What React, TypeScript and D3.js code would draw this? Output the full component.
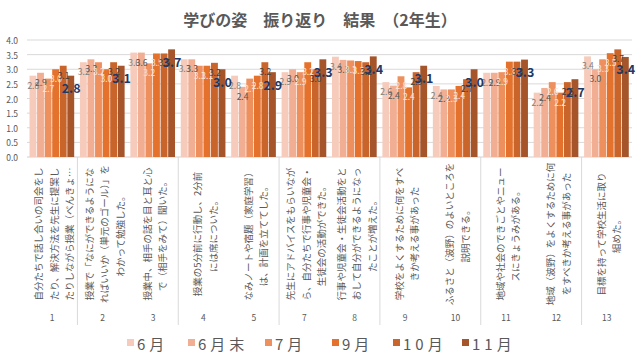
import React from "react";
import * as d3 from "d3";

const title = "学びの姿　振り返り　結果　（2年生）";
const months = ["6月", "6月末", "7月", "9月", "10月", "11月"];
const itemNumbers = ["1", "2", "3", "4", "5", "7", "8", "9", "10", "11", "12", "13"];
const itemTexts: string[][] = [
  ["自分たちで話し合いの司会をし", "たり、解決方法を先生に提案し", "たりしながら授業（べんきょ…"],
  ["授業で「なにができるようにな", "ればいいか（単元のゴール）」を", "わかって勉強した。"],
  ["授業中、相手の話を目と耳と心", "で（相手をみて）聞いた。"],
  ["授業の5分前に行動し、2分前", "には席についた。"],
  ["なみノートや宿題（家庭学習）", "は、計画を立ててした。"],
  ["先生にアドバイスをもらいなが", "ら、自分たちで行事や児童会・", "生徒会の活動ができた。"],
  ["行事や児童会・生徒会活動をと", "おして自分ができるようになっ", "たことが増えた。"],
  ["学校をよくするために何をすべ", "きか考える事があった"],
  ["ふるさと（波野）のよいところを", "説明できる。"],
  ["地域や社会のできごとやニュー", "スにきょうみがある。"],
  ["地域（波野）をよくするために何", "をすべきか考える事があった"],
  ["目標を持って学校生活に取り", "組めた。"],
];

const v6 = [2.78, 3.24, 3.57, 3.34, 2.78, 2.9, 3.43, 2.56, 2.43, 2.88, 2.2, 3.44];
const v6end = [2.88, 3.34, 3.57, 3.34, 2.4, 3.0, 3.32, 2.44, 2.31, 2.88, 2.36, 3.0];
const v7 = [2.68, 3.24, 3.2, 3.12, 2.68, 2.9, 3.3, 2.76, 2.31, 2.9, 2.56, 3.34];
const v9 = [3.0, 3.0, 3.54, 3.12, 2.78, 3.24, 3.28, 2.38, 2.43, 3.26, 2.2, 3.55];
const v10 = [3.12, 3.24, 3.54, 3.22, 3.24, 3.0, 3.24, 2.9, 2.66, 3.26, 2.56, 3.68];
const v11 = [2.78, 3.12, 3.68, 3.0, 2.9, 3.34, 3.44, 3.12, 3.0, 3.33, 2.66, 3.42];
const seriesValues = [v6, v6end, v7, v9, v10, v11];

const barColors = ["#F6CBBB", "#F1AE93", "#EE8F5E", "#E5722C", "#C9642B", "#A6552B"];
const labelColors = ["#7F7F7F", "#595959", "#FBE3D6", "#FBE3D6", "#404040", "#1F3864"];

const FONT = "'Noto Sans CJK JP', 'Noto Sans', sans-serif";

export default function App() {
  const W = 640, H = 360;
  const x = d3.scaleBand<string>().domain(itemNumbers).range([27, 632]).paddingInner(0.1).paddingOuter(0.05);
  const x1 = d3.scaleBand<string>().domain(months).range([0, x.bandwidth()]);
  const y = d3.scaleLinear().domain([0, 4]).range([157, 40]);
  const ticks = y.ticks(8);
  const fmt = d3.format(".1f");
  const step = x.step();
  const sepIdx = [1, 3, 5, 7, 9, 11];

  const legendX = [127, 188, 265, 332, 393, 462];

  return (
    <svg width={W} height={H} style={{ position: "absolute", left: 0, top: 0, background: "#fff" }} fontFamily={FONT}>
      <text x={320} y={19} textAnchor="middle" dominantBaseline="central" fontSize={16} fontWeight={700} fill="#595959">
        {title}
      </text>
      {ticks.map((t) => (
        <g key={"t" + t}>
          <line x1={27} x2={632} y1={y(t)} y2={y(t)} stroke={t === 0 ? "#D0D0D0" : "#D9D9D9"} strokeWidth={1} />
          <text x={18} y={y(t)} textAnchor="end" dominantBaseline="central" fontSize={8.5} fill="#595959">
            {fmt(t)}
          </text>
        </g>
      ))}
      {seriesValues.map((vals, si) => (
        <g key={"s" + si}>
          {vals.map((v, i) => (
            <rect
              key={i}
              x={(x(itemNumbers[i]) as number) + (x1(months[si]) as number)}
              y={y(v)}
              width={x1.bandwidth() - 0.7}
              height={y(0) - y(v)}
              fill={barColors[si]}
            />
          ))}
        </g>
      ))}
      {seriesValues.map((vals, si) => (
        <g key={"l" + si}>
          {vals.map((v, i) => {
            const cx = (x(itemNumbers[i]) as number) + (x1(months[si]) as number) + x1.bandwidth() / 2;
            const bold = si === 5;
            return (
              <text
                key={i}
                x={cx}
                y={y(v) + (bold ? 12 : 9)}
                textAnchor="middle"
                dominantBaseline="central"
                fontSize={bold ? 12.5 : 8.5}
                fontWeight={bold ? 700 : 400}
                fill={labelColors[si]}
              >
                {fmt(v)}
              </text>
            );
          })}
        </g>
      ))}
      {sepIdx.map((k) => (
        <line key={"sep" + k} x1={27 + k * step} x2={27 + k * step} y1={157} y2={325} stroke="#D9D9D9" strokeWidth={1} />
      ))}
      {itemNumbers.map((n, i) => {
        const cx = (x(n) as number) + x.bandwidth() / 2;
        const lines = itemTexts[i];
        return (
          <g key={"c" + n}>
            {lines.map((ln, li) => {
              const lx = cx + (li - (lines.length - 1) / 2) * 15.5 + 1.5;
              return (
                <text
                  key={li}
                  transform={`translate(${lx},234) rotate(-90)`}
                  textAnchor="middle"
                  dominantBaseline="central"
                  fontSize={9.5}
                  fill="#595959"
                >
                  {ln}
                </text>
              );
            })}
            <text x={cx} y={317} textAnchor="middle" dominantBaseline="central" fontSize={8.5} fill="#595959">
              {n}
            </text>
          </g>
        );
      })}
      {months.map((m, i) => (
        <g key={"lg" + m}>
          <rect x={legendX[i]} y={339} width={7} height={7} fill={barColors[i]} />
          <text x={legendX[i] + 10} y={343} dominantBaseline="central" fontSize={15} letterSpacing={4} fill="#595959">
            {m}
          </text>
        </g>
      ))}
    </svg>
  );
}
